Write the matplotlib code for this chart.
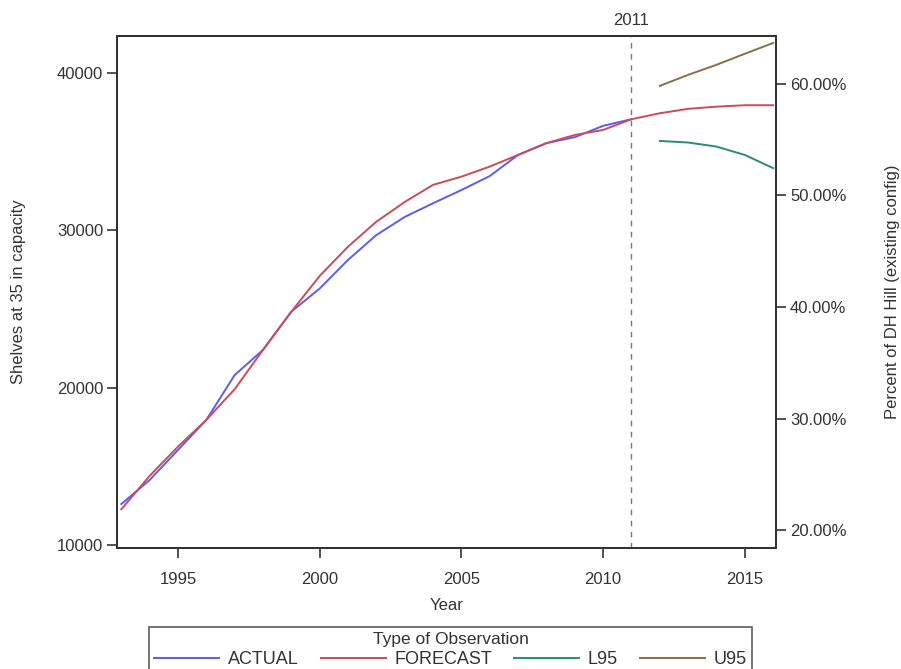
import matplotlib
matplotlib.use("Agg")
import matplotlib.pyplot as plt
from matplotlib.ticker import FuncFormatter

plt.rcParams['font.family'] = ['Liberation Sans', 'DejaVu Sans']

# data
actual_years = list(range(1993, 2012))
actual = [12600, 14130, 16040, 17950, 20800, 22400, 24830, 26300, 28120, 29700,
          30850, 31720, 32560, 33450, 34790, 35540, 35920, 36640, 37060]

forecast_years = list(range(1993, 2017))
forecast = [12270, 14390, 16250, 17950, 19900, 22400, 24830, 27100, 28960, 30550,
            31800, 32890, 33410, 34050, 34790, 35540, 36060, 36380, 37060,
            37440, 37720, 37860, 37950, 37950]

band_years = [2012, 2013, 2014, 2015, 2016]
l95 = [35680, 35580, 35320, 34790, 33950]
u95 = [39180, 39880, 40520, 41220, 41910]

line_colors = {'ACTUAL': '#5c5cf0', 'FORECAST': '#cc4a5a', 'L95': '#2b8a78', 'U95': '#8c6d46'}
axis_color = '#333333'

fig = plt.figure(figsize=(9.01, 6.69), dpi=100)
ax = fig.add_axes([0.1299, 0.1809, 0.7314, 0.7653])

ax.plot(actual_years, actual, color=line_colors['ACTUAL'], lw=1.4, label='ACTUAL')
ax.plot(forecast_years, forecast, color=line_colors['FORECAST'], lw=1.4, label='FORECAST')
ax.plot(band_years, l95, color=line_colors['L95'], lw=1.4, label='L95')
ax.plot(band_years, u95, color=line_colors['U95'], lw=1.4, label='U95')

ax.axvline(2011, color='#777777', lw=1, ls=(0, (4, 4)))
ax.text(2011, 1.015, '2011', transform=ax.get_xaxis_transform(), ha='center', va='bottom',
        fontsize=12, color=axis_color)

ax.set_xlim(1992.85, 2016.1)
ax.set_ylim(9810, 42350)
ax.set_xticks([1995, 2000, 2005, 2010, 2015])
ax.set_yticks([10000, 20000, 30000, 40000])
ax.set_xlabel('Year', fontsize=12, color=axis_color, labelpad=8)
ax.set_ylabel('Shelves at 35 in capacity', fontsize=12, color=axis_color, labelpad=22)

ax2 = ax.twinx()
ax2.set_ylim(18.39, 64.3)
ax2.set_yticks([20, 30, 40, 50, 60])
ax2.yaxis.set_major_formatter(FuncFormatter(lambda v, p: f"{v:.2f}%"))
ax2.set_ylabel('Percent of DH Hill (existing config)', fontsize=12, color=axis_color, labelpad=28)

for a in (ax, ax2):
    a.tick_params(direction='out', length=7, width=1.2, colors=axis_color, labelsize=12, pad=3)
    for s in a.spines.values():
        s.set_color(axis_color)
        s.set_linewidth(1.4)
ax.tick_params(axis='x', pad=10)
ax.tick_params(top=False)

leg = fig.legend(handles=ax.get_lines()[:4], loc='lower center', bbox_to_anchor=(0.5, -0.02),
                 ncol=4, title='Type of Observation', fontsize=13, title_fontsize=12.5,
                 frameon=True, fancybox=False, edgecolor=axis_color, handlelength=3.6,
                 columnspacing=1.2, handletextpad=0.5, borderpad=0.3, labelspacing=0.2,
                 labelcolor=axis_color)
leg.get_title().set_color(axis_color)
leg.get_frame().set_linewidth(1.2)

fig.savefig('out.png', dpi=100)
